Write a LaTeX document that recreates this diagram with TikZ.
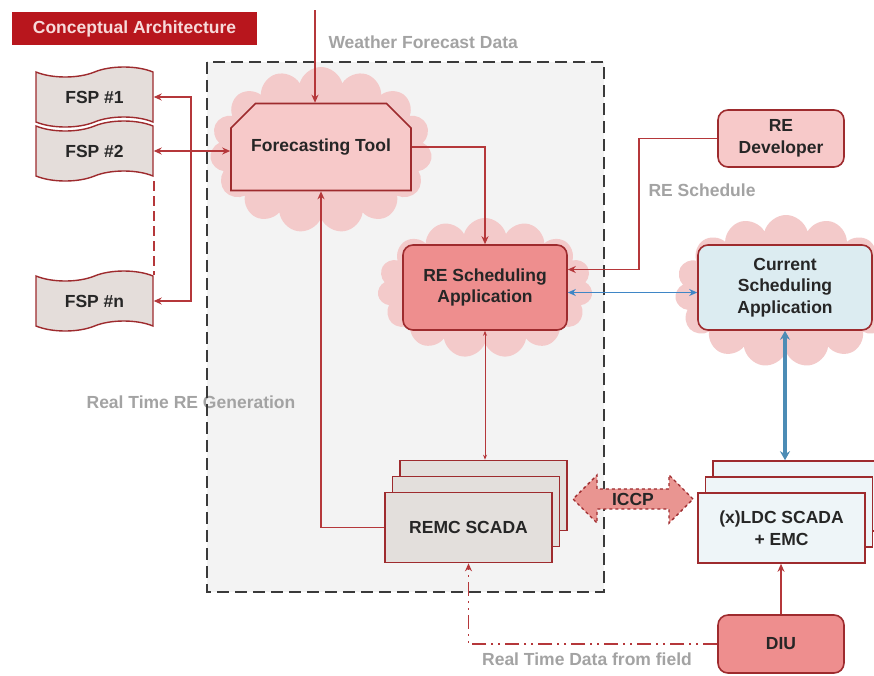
\documentclass[tikz,border=0pt]{standalone}
\usepackage{fontspec}
\setmainfont{Liberation Sans}
\usepackage{tikz}
\usetikzlibrary{shapes.geometric,shapes.symbols,shapes.misc,shapes.arrows,arrows.meta,positioning}
\definecolor{titlered}  {HTML}{B8161D}
\definecolor{titletext} {HTML}{F7DADA}
\definecolor{boxred}    {HTML}{9E2B2E}
\definecolor{linered}   {HTML}{B5373A}
\definecolor{pinklight} {HTML}{F7C9C9}
\definecolor{pinkmid}   {HTML}{EE8E8E}
\definecolor{cloudpink} {HTML}{F3CACA}
\definecolor{fspgray}   {HTML}{E4DDDA}
\definecolor{scadagray} {HTML}{E3DFDC}
\definecolor{ldcblue}   {HTML}{EEF5F8}
\definecolor{curblue}   {HTML}{DCECF1}
\definecolor{arrowblue} {HTML}{3F86C6}
\definecolor{steelblue} {HTML}{4C8CB5}
\definecolor{labelgray} {HTML}{A3A3A3}
\definecolor{regiongray}{HTML}{F3F3F3}
\definecolor{dashgray}  {HTML}{3A3A3A}
\definecolor{iccpred}   {HTML}{E99591}

\begin{document}
\begin{tikzpicture}[x=1pt,y=-1pt,
        txt/.style={font=\bfseries\fontsize{17.5}{21.5}\selectfont,text=black!85,align=center},
        glabel/.style={font=\bfseries\fontsize{17.5}{21}\selectfont,text=labelgray},
        cloudbg/.style={cloud,cloud puffs=15,cloud ignores aspect,fill=cloudpink,draw=none},
        tool/.style={txt,chamfered rectangle,chamfered rectangle corners={north west,north east},
                     chamfered rectangle xsep=13pt,chamfered rectangle ysep=13pt,
                     draw=boxred,fill=pinklight,line width=1.6pt,
                     minimum width=180pt,minimum height=87pt},
        rbox/.style={txt,rectangle,rounded corners=10pt,draw=boxred,line width=1.6pt},
        fsp/.style={txt,tape,tape bend height=10pt,draw=boxred,fill=fspgray,line width=1.4pt,
                    minimum width=117pt,minimum height=60pt},
        scada/.style={txt,rectangle,draw=boxred,line width=1.6pt,fill=scadagray,
                      minimum width=167pt,minimum height=70pt},
        iccp/.style={txt,double arrow,double arrow head extend=11pt,draw=boxred,dashed,
                     fill=iccpred,line width=1.4pt,minimum height=120pt,minimum width=48pt,
                     inner xsep=3pt,inner ysep=1pt},
        conn/.style={draw=linered,line width=1.6pt},
        tip/.tip={Stealth[length=8pt,width=7pt]}]
        \clip (0,0) rectangle (874,675);
        \fill[white] (0,0) rectangle (874,675);
        % region of the RE application
        \fill[regiongray] (207,62) rectangle (604,592);
        \node[glabel] (rtgen) at (191,402) {Real Time RE Generation};
        \node[cloudbg,minimum width=222pt,minimum height=166pt] (cl1) at (321,150) {};
        \node[cloudbg,minimum width=215pt,minimum height=140pt] (cl2) at (485,288) {};
        \node[cloudbg,minimum width=222pt,minimum height=152pt] (cl3) at (786,291) {};
        \draw[dashgray,line width=2.4pt,dash pattern=on 12pt off 6pt] (207,62) rectangle (604,592);
        % title
        \node[rectangle,fill=titlered,minimum width=245pt,minimum height=33pt,
              text=titletext,font=\bfseries\fontsize{17.5}{21}\selectfont] (title) at (134.5,28.5)
              {Conceptual Architecture};
        % nodes
        \node[fsp] (fsp1) at (94.5,97) {FSP \#1};
        \node[fsp] (fsp2) at (94.5,151) {FSP \#2};
        \node[fsp] (fspn) at (94.5,301) {FSP \#n};
        \node[tool] (fctool) at (321,147) {Forecasting Tool};
        \node[rbox,fill=pinkmid,minimum width=164pt,minimum height=85pt] (resched) at (485,287.5)
              {RE Scheduling\\Application};
        \node[rbox,fill=pinklight,minimum width=126pt,minimum height=57pt] (redev) at (781,138.5)
              {RE\\Developer};
        \node[rbox,fill=curblue,minimum width=174pt,minimum height=85pt] (current) at (785,287.5)
              {Current\\Scheduling\\Application};
        \node[scada] (remcB) at (483.5,495.5) {};
        \node[scada] (remcM) at (476,511.5) {};
        \node[scada] (remc) at (468.5,527.5) {REMC SCADA};
        \node[scada,fill=ldcblue] (ldcB) at (796.5,496) {};
        \node[scada,fill=ldcblue] (ldcM) at (789,512) {};
        \node[scada,fill=ldcblue] (ldc) at (781.5,528) {(x)LDC SCADA\\+ EMC};
        \node[rbox,fill=pinkmid,minimum width=126pt,minimum height=58pt] (diu) at (781,644) {DIU};
        \node[iccp] (iccp) at (633,499) {ICCP};
        % connectors
        \coordinate (wtop) at (315,10);
        \draw[conn,-tip] (wtop) -- (wtop |- fctool.north);
        \node[glabel,anchor=west] (wlabel) at (325,42) {Weather Forecast Data};
        \draw[conn,dashed,dash pattern=on 10pt off 5pt] (fsp2.east) ++(0,30) coordinate (gap) -- (gap |- fspn.north);
        \draw[conn,tip-tip] (fsp1.east) -- ++(37,0) |- (fspn.east);
        \draw[conn,tip-tip] (fsp2.east) -- (fctool.west |- fsp2.east);
        \draw[conn,-tip] (fctool.east) -| (resched.north);
        \draw[conn,-tip] (remc.west) -| (fctool.south);
        \draw[conn,line width=1pt,{Stealth[length=5pt,width=4pt]}-{Stealth[length=5pt,width=4pt]}]
              (resched.south) -- (resched.south |- remcB.north);
        \draw[conn,-tip] (redev.west) -- ++(-78,0) |- ([yshift=18pt]resched.east);
        \node[glabel,anchor=west] (sched) at (645,190) {RE Schedule};
        \draw[arrowblue,line width=1.6pt,tip-tip] ([yshift=-5pt]resched.east) -- ([yshift=-5pt]current.west);
        \draw[steelblue,line width=3.4pt,{Stealth[length=9pt,width=10pt]}-{Stealth[length=9pt,width=10pt]}]
              (current.south) -- (current.south |- ldcB.north);
        \draw[conn,-tip] (diu.north) -- (diu.north |- ldc.south);
        \draw[conn,-tip,dash pattern=on 14pt off 5pt on 2pt off 5pt on 2pt off 5pt]
              (diu.west) -| (remc.south);
        \node[glabel] (rtdata) at (587,659) {Real Time Data from field};
      \end{tikzpicture}
\end{document}
